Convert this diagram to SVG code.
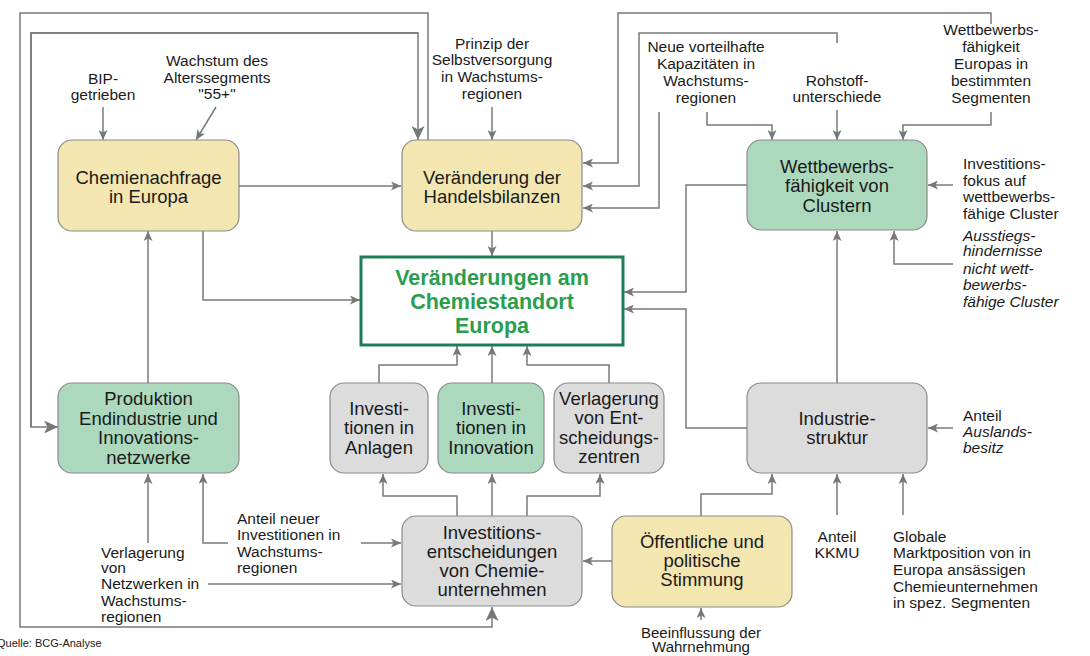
<svg xmlns="http://www.w3.org/2000/svg" width="1090" height="656" viewBox="0 0 1090 656">
<defs>
<marker id="a" markerUnits="userSpaceOnUse" markerWidth="10" markerHeight="9" refX="10" refY="4.5" orient="auto"><path d="M0,0 L10,4.5 L0,9 L2.5,4.5 z" fill="#777"/></marker>
<marker id="b" markerUnits="userSpaceOnUse" markerWidth="14" markerHeight="13" refX="14" refY="6.5" orient="auto"><path d="M0,0 L14,6.5 L0,13 L3.5,6.5 z" fill="#777"/></marker>
<style>
.c{fill:none;stroke:#7a7a7a;stroke-width:1.5}
.m{marker-end:url(#a)}
.M{marker-end:url(#b)}
.y{fill:#f3e6b0;stroke:#8a8a8a;stroke-width:1.2}
.g{fill:#acd9bd;stroke:#8a8a8a;stroke-width:1.2}
.r{fill:#dcdcdc;stroke:#8a8a8a;stroke-width:1.2}
text{font-family:"Liberation Sans",Arial,sans-serif;fill:#1a1a1a}
.bt{font-size:18.5px;text-anchor:middle}
.l{font-size:15.5px}
.lc{font-size:15.5px;text-anchor:middle}
.i{font-style:italic}
.t{font-size:21.5px;font-weight:bold;fill:#2a9e4c;text-anchor:middle}
</style>
</defs>
<rect width="1090" height="656" fill="#fff"/>
<g id="connectors">
<path class="c M" d="M428,140 V13 H20 V627 H492 V607"/>
<path class="c M" d="M31,427 V33 H418 V140"/>
<path class="c M" d="M418,33 H31 V427 H58"/>
<path class="c m" d="M991,24 V13 H618 V163 H583"/>
<path class="c m" d="M837,43 V33 H639 V186 H583"/>
<path class="c m" d="M659,112 V208 H583"/>
<path class="c m" d="M707,112 V125 H772 V140"/>
<path class="c m" d="M837,110 V140"/>
<path class="c m" d="M991,112 V125 H903 V140"/>
<path class="c m" d="M953,185 H928"/>
<path class="c m" d="M953,264 H894 V231"/>
<path class="c m" d="M837,383 V231"/>
<path class="c m" d="M103,107 V140"/>
<path class="c m" d="M216,107 L196,140"/>
<path class="c m" d="M492,107 V140"/>
<path class="c m" d="M239,186 H401"/>
<path class="c m" d="M492,231 V256"/>
<path class="c m" d="M203,231 V300 H360"/>
<path class="c m" d="M747,185 H686 V292 H624"/>
<path class="c m" d="M747,428 H686 V309 H624"/>
<path class="c m" d="M379,383 V365 H457 V346"/>
<path class="c m" d="M492,383 V346"/>
<path class="c m" d="M609,383 V365 H527 V346"/>
<path class="c m" d="M148,383 V231"/>
<path class="c m" d="M148,543 V474"/>
<path class="c m" d="M228,543 H203 V474"/>
<path class="c m" d="M361,543 H401"/>
<path class="c m" d="M208,584 H401"/>
<path class="c m" d="M612,561 H583"/>
<path class="c m" d="M457,516 V496 H383 V474"/>
<path class="c m" d="M492,516 V474"/>
<path class="c m" d="M527,516 V496 H600 V474"/>
<path class="c m" d="M701,516 V494 H772 V474"/>
<path class="c m" d="M837,515 V474"/>
<path class="c m" d="M903,515 V474"/>
<path class="c m" d="M953,428 H928"/>
<path class="c m" d="M701,620 V608"/>
</g>
<g id="chemienachfrage">
<rect class="y" x="58" y="140" width="181" height="91" rx="14"/>
<text class="bt" x="148.5" y="183.5">Chemienachfrage</text>
<text class="bt" x="148.5" y="202.5">in Europa</text>
</g>
<g id="handelsbilanzen">
<rect class="y" x="402" y="140" width="180" height="91" rx="14"/>
<text class="bt" x="492" y="183.5">Veränderung der</text>
<text class="bt" x="492" y="202.5">Handelsbilanzen</text>
</g>
<g id="wettbewerb">
<rect class="g" x="747" y="140" width="180" height="90" rx="14"/>
<text class="bt" x="837" y="173">Wettbewerbs-</text>
<text class="bt" x="837" y="192">fähigkeit von</text>
<text class="bt" x="837" y="211.5">Clustern</text>
</g>
<g id="standort">
<rect x="361" y="257" width="262" height="88" fill="#fff" stroke="#1f7d55" stroke-width="3"/>
<text class="t" x="492" y="284.5">Veränderungen am</text>
<text class="t" x="492" y="308.5">Chemiestandort</text>
<text class="t" x="492" y="333">Europa</text>
</g>
<g id="produktion">
<rect class="g" x="58" y="383" width="181" height="90" rx="14"/>
<text class="bt" x="148.5" y="405">Produktion</text>
<text class="bt" x="148.5" y="424.5">Endindustrie und</text>
<text class="bt" x="148.5" y="444">Innovations-</text>
<text class="bt" x="148.5" y="463.5">netzwerke</text>
</g>
<g id="anlagen">
<rect class="r" x="330" y="383" width="98" height="90" rx="14"/>
<text class="bt" x="379" y="414.5">Investi-</text>
<text class="bt" x="379" y="434">tionen in</text>
<text class="bt" x="379" y="453.5">Anlagen</text>
</g>
<g id="innovation">
<rect class="g" x="438" y="383" width="106" height="90" rx="14"/>
<text class="bt" x="491" y="414.5">Investi-</text>
<text class="bt" x="491" y="434">tionen in</text>
<text class="bt" x="491" y="453.5">Innovation</text>
</g>
<g id="entscheidungszentren">
<rect class="r" x="554" y="383" width="110" height="90" rx="14"/>
<text class="bt" x="609" y="404.5">Verlagerung</text>
<text class="bt" x="609" y="424">von Ent-</text>
<text class="bt" x="609" y="443.5">scheidungs-</text>
<text class="bt" x="609" y="463">zentren</text>
</g>
<g id="industriestruktur">
<rect class="r" x="747" y="383" width="180" height="90" rx="14"/>
<text class="bt" x="837" y="424.5">Industrie-</text>
<text class="bt" x="837" y="443.5">struktur</text>
</g>
<g id="investitionsentscheidungen">
<rect class="r" x="402" y="516" width="180" height="90" rx="14"/>
<text class="bt" x="492" y="538.5">Investitions-</text>
<text class="bt" x="492" y="557.5">entscheidungen</text>
<text class="bt" x="492" y="576.5">von Chemie-</text>
<text class="bt" x="492" y="595.5">unternehmen</text>
</g>
<g id="stimmung">
<rect class="y" x="612" y="516" width="180" height="91" rx="14"/>
<text class="bt" x="702" y="548">Öffentliche und</text>
<text class="bt" x="702" y="567">politische</text>
<text class="bt" x="702" y="586">Stimmung</text>
</g>
<g id="labels">
<text class="lc" x="103" y="83.5">BIP-</text>
<text class="lc" x="103" y="100">getrieben</text>
<text class="lc" x="217" y="66">Wachstum des</text>
<text class="lc" x="217" y="82.5">Alterssegments</text>
<text class="lc" x="217" y="99">"55+"</text>
<text class="lc" x="492" y="48.5">Prinzip der</text>
<text class="lc" x="492" y="65">Selbstversorgung</text>
<text class="lc" x="492" y="82">in Wachstums-</text>
<text class="lc" x="492" y="99">regionen</text>
<text class="lc" x="706" y="52">Neue vorteilhafte</text>
<text class="lc" x="706" y="69">Kapazitäten in</text>
<text class="lc" x="706" y="85.5">Wachstums-</text>
<text class="lc" x="706" y="102.5">regionen</text>
<text class="lc" x="837" y="85.5">Rohstoff-</text>
<text class="lc" x="837" y="102">unterschiede</text>
<text class="lc" x="991" y="34.5">Wettbewerbs-</text>
<text class="lc" x="991" y="51.5">fähigkeit</text>
<text class="lc" x="991" y="68.5">Europas in</text>
<text class="lc" x="991" y="85.5">bestimmten</text>
<text class="lc" x="991" y="102.5">Segmenten</text>
<text class="l" x="963" y="168.5">Investitions-</text>
<text class="l" x="963" y="185.5">fokus auf</text>
<text class="l" x="963" y="202">wettbewerbs-</text>
<text class="l" x="963" y="219">fähige Cluster</text>
<text class="l i" x="963" y="240.5">Ausstiegs-</text>
<text class="l i" x="963" y="256">hindernisse</text>
<text class="l i" x="963" y="273.5">nicht wett-</text>
<text class="l i" x="963" y="290">bewerbs-</text>
<text class="l i" x="963" y="306.5">fähige Cluster</text>
<text class="l" x="963" y="420.5">Anteil</text>
<text class="l i" x="963" y="437">Auslands-</text>
<text class="l i" x="963" y="453">besitz</text>
<text class="lc" x="837" y="541.5">Anteil</text>
<text class="lc" x="837" y="557.5">KKMU</text>
<text class="l" x="893" y="541.5">Globale</text>
<text class="l" x="893" y="557.5">Marktposition von in</text>
<text class="l" x="893" y="574.5">Europa ansässigen</text>
<text class="l" x="893" y="591.5">Chemieunternehmen</text>
<text class="l" x="893" y="608">in spez. Segmenten</text>
<text class="lc" x="701" y="637.5" style="font-size:15px">Beeinflussung der</text>
<text class="lc" x="701" y="652" style="font-size:15px">Wahrnehmung</text>
<text class="l" x="237" y="523.5">Anteil neuer</text>
<text class="l" x="237" y="539.5">Investitionen in</text>
<text class="l" x="237" y="556.5">Wachstums-</text>
<text class="l" x="237" y="573">regionen</text>
<text class="l" x="101" y="557.5">Verlagerung</text>
<text class="l" x="101" y="573">von</text>
<text class="l" x="101" y="589">Netzwerken in</text>
<text class="l" x="101" y="606">Wachstums-</text>
<text class="l" x="101" y="622">regionen</text>
<text x="-3" y="647" style="font-size:11px">Quelle: BCG-Analyse</text>
</g>
</svg>
